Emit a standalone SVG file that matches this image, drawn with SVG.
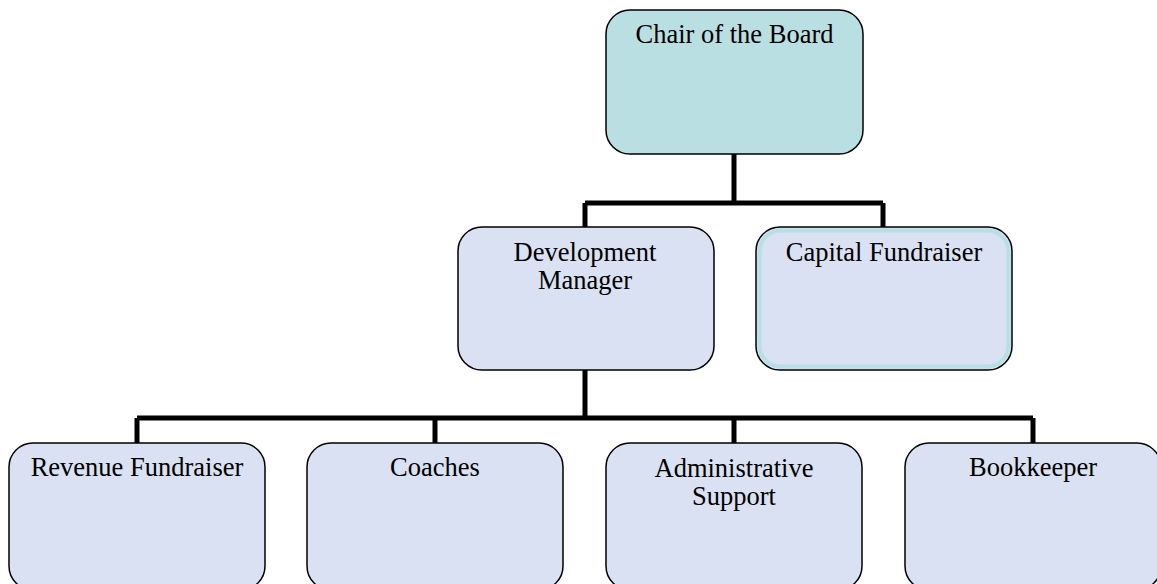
<svg xmlns="http://www.w3.org/2000/svg" width="1157" height="584" viewBox="0 0 1157 584">
<style>
.box{fill:#d9e1f2;stroke:#000;stroke-width:1.5}
.top{fill:#badfe2;stroke:#000;stroke-width:1.5}
.lbl{font-family:"Liberation Serif","Times New Roman",serif;font-size:26.5px;fill:#000;text-anchor:middle}
.conn{fill:none;stroke:#000;stroke-width:5}
</style>
<rect width="1157" height="584" fill="#fff"/>
<g id="connectors">
<path class="conn" d="M734,154 V203 M585,203 H883 M585,203 V227 M883,203 V227"/>
<path class="conn" d="M585,370 V418 M137,418 H1033 M137,418 V443 M435,418 V443 M734,418 V443 M1033,418 V443"/>
</g>
<g id="chair">
<rect class="top" x="606" y="10" width="257" height="144" rx="24"/>
<text class="lbl" x="734.5" y="43">Chair of the Board</text>
</g>
<g id="devmgr">
<rect class="box" x="458" y="227" width="256" height="143" rx="24"/>
<text class="lbl" x="585" y="261">Development</text>
<text class="lbl" x="585" y="289">Manager</text>
</g>
<g id="capital">
<rect class="box" x="756" y="227" width="256" height="143" rx="24"/>
<rect x="759.5" y="230.5" width="249" height="136" rx="21" fill="none" stroke="#b8dfe3" stroke-width="4"/>
<text class="lbl" x="884" y="261">Capital Fundraiser</text>
</g>
<g id="revenue">
<rect class="box" x="9" y="443" width="256" height="147" rx="24"/>
<text class="lbl" x="137" y="476">Revenue Fundraiser</text>
</g>
<g id="coaches">
<rect class="box" x="307" y="443" width="256" height="147" rx="24"/>
<text class="lbl" x="435" y="476">Coaches</text>
</g>
<g id="admin">
<rect class="box" x="606" y="443" width="256" height="147" rx="24"/>
<text class="lbl" x="734" y="477">Administrative</text>
<text class="lbl" x="734" y="505">Support</text>
</g>
<g id="bookkeeper">
<rect class="box" x="905" y="443" width="256" height="147" rx="24"/>
<text class="lbl" x="1033" y="476">Bookkeeper</text>
</g>
</svg>
